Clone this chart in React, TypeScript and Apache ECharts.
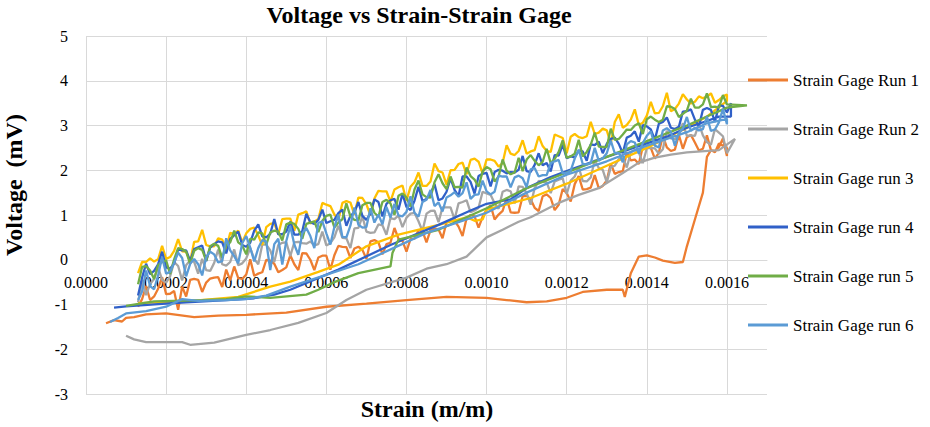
import React, { useEffect, useRef } from "react";
import * as echarts from "echarts";

// strain sample points shared by all loading (noisy) branches
const strainGrid = [
  0.00013, 0.00014, 0.00015, 0.00016, 0.00017, 0.00018, 0.00019, 0.0002, 0.00021, 0.00022,
  0.00023, 0.00024, 0.00025, 0.00026, 0.00027, 0.00028, 0.00029, 0.0003, 0.00031, 0.00032,
  0.00033, 0.00034, 0.00035, 0.00036, 0.00037, 0.00038, 0.00039, 0.0004, 0.00041, 0.00042,
  0.00043, 0.00044, 0.00045, 0.00046, 0.00047, 0.00048, 0.00049, 0.0005, 0.00051, 0.00052,
  0.00053, 0.00054, 0.00055, 0.00056, 0.00057, 0.00058, 0.00059, 0.0006, 0.00061, 0.00062,
  0.00063, 0.00064, 0.00065, 0.00066, 0.00067, 0.00068, 0.00069, 0.0007, 0.00071, 0.00072,
  0.00073, 0.00074, 0.00075, 0.00076, 0.00077, 0.00078, 0.00079, 0.0008, 0.00081, 0.00082,
  0.00083, 0.00084, 0.00085, 0.00086, 0.00087, 0.00088, 0.00089, 0.0009, 0.00091, 0.00092,
  0.00093, 0.00094, 0.00095, 0.00096, 0.00097, 0.00098, 0.00099, 0.001, 0.00101, 0.00102,
  0.00103, 0.00104, 0.00105, 0.00106, 0.00107, 0.00108, 0.00109, 0.0011, 0.00111, 0.00112,
  0.00113, 0.00114, 0.00115, 0.00116, 0.00117, 0.00118, 0.00119, 0.0012, 0.00121, 0.00122,
  0.00123, 0.00124, 0.00125, 0.00126, 0.00127, 0.00128, 0.00129, 0.0013, 0.00131, 0.00132,
  0.00133, 0.00134, 0.00135, 0.00136, 0.00137, 0.00138, 0.00139, 0.0014, 0.00141, 0.00142,
  0.00143, 0.00144, 0.00145, 0.00146, 0.00147, 0.00148, 0.00149, 0.0015, 0.00151, 0.00152,
  0.00153, 0.00154, 0.00155, 0.00156, 0.00157, 0.00158, 0.00159, 0.0016,
];

// loading branch voltages (mV), one per strainGrid entry
const run1Loading = [
  -1.05, -0.88, -0.59, -0.9, -0.82, -0.65, -0.39, -0.77, -0.76, -0.7,
  -1.12, -0.6, -0.82, -0.45, -0.43, -0.45, -0.72, -0.51, -0.42, -0.4,
  -0.39, -0.61, -0.22, -0.46, -0.15, -0.41, -0.43, -0.33, 0.01, -0.36,
  -0.31, -0.28, 0.0, -0.02, -0.09, -0.28, -0.23, -0.17, 0.1, -0.1,
  -0.23, 0.15, 0.14, 0.0, -0.23, 0.05, 0.09, 0.09, -0.22, 0.1,
  0.31, 0.29, 0.28, 0.04, 0.25, 0.29, 0.22, 0.02, 0.41, 0.44,
  0.39, 0.12, 0.35, 0.38, 0.71, 0.47, 0.42, 0.18, 0.46, 0.47,
  0.66, 0.64, 0.39, 0.66, 0.7, 0.68, 0.48, 0.84, 0.89, 0.87,
  0.74, 0.53, 0.93, 1.0, 0.97, 0.72, 0.96, 1.12, 1.22, 0.9,
  1.01, 1.09, 1.38, 1.06, 1.05, 1.06, 1.42, 1.43, 1.35, 1.16,
  1.09, 1.42, 1.46, 1.38, 1.11, 1.23, 1.58, 1.49, 1.3, 1.69,
  1.87, 1.57, 1.58, 1.61, 1.89, 1.6, 1.65, 1.77, 2.15, 1.92,
  1.96, 1.98, 2.4, 2.22, 2.24, 2.14, 2.53, 2.63, 2.5, 2.26,
  2.39, 2.77, 2.51, 2.43, 2.46, 2.79, 2.48, 2.74, 2.79, 2.62,
  2.44, 2.48, 2.78, 2.45, 2.42, 2.52, 2.71, 2.32,
];
const run2Loading = [
  -0.95, -0.46, -0.79, -0.54, -0.43, -0.17, -0.45, -0.51, -0.37, -0.05,
  -0.14, -0.46, -0.12, -0.01, -0.05, -0.31, 0.02, -0.23, -0.25, -0.07,
  0.23, -0.1, -0.13, -0.05, 0.23, -0.12, -0.08, 0.03, 0.26, 0.02,
  -0.1, 0.34, 0.34, 0.21, -0.05, 0.33, 0.38, 0.39, 0.08, 0.39,
  0.4, 0.37, 0.36, 0.41, 0.32, 0.35, 0.63, 0.32, 0.37, 0.5,
  0.76, 0.49, 0.48, 0.26, 0.7, 0.71, 0.97, 0.63, 0.6, 0.61,
  0.79, 0.77, 0.56, 0.93, 0.91, 0.99, 0.73, 0.94, 1.03, 1.05,
  0.86, 0.64, 1.03, 1.09, 1.1, 0.84, 1.17, 1.17, 1.17, 0.9,
  1.26, 1.29, 1.33, 1.06, 1.1, 1.16, 1.52, 1.48, 1.45, 1.26,
  1.14, 1.52, 1.56, 1.53, 1.26, 1.64, 1.63, 1.49, 1.23, 1.6,
  1.76, 1.74, 1.73, 1.49, 1.75, 1.79, 1.82, 1.47, 1.77, 1.86,
  2.07, 1.76, 1.75, 1.84, 2.23, 2.05, 2.01, 1.73, 2.07, 2.1,
  2.25, 2.3, 2.06, 2.4, 2.45, 2.4, 2.16, 2.49, 2.5, 2.49,
  2.37, 2.47, 2.88, 2.71, 2.69, 2.8, 3.05, 2.77, 2.78, 2.77,
  3.04, 2.78, 2.63, 2.57, 2.92, 2.84, 2.76, 2.38,
];
const run3Loading = [
  -0.3, -0.05, -0.05, 0.03, -0.04, 0.01, 0.31, 0.02, 0.06, 0.2,
  0.46, 0.19, 0.18, -0.04, 0.4, 0.41, 0.67, 0.33, 0.3, 0.3,
  0.48, 0.45, 0.24, 0.6, 0.58, 0.65, 0.39, 0.59, 0.69, 0.72,
  0.54, 0.33, 0.73, 0.8, 0.82, 0.57, 0.91, 0.92, 0.92, 0.65,
  1.01, 1.04, 1.08, 0.81, 0.85, 0.91, 1.27, 1.23, 1.2, 1.01,
  0.89, 1.27, 1.31, 1.28, 1.01, 1.39, 1.38, 1.24, 0.99, 1.37,
  1.54, 1.53, 1.53, 1.3, 1.57, 1.62, 1.66, 1.32, 1.63, 1.73,
  1.95, 1.65, 1.65, 1.75, 2.15, 1.98, 1.95, 1.68, 2.0, 2.01,
  2.14, 2.17, 1.91, 2.23, 2.26, 2.19, 1.93, 2.24, 2.24, 2.21,
  2.08, 2.16, 2.56, 2.37, 2.34, 2.43, 2.67, 2.37, 2.42, 2.45,
  2.76, 2.54, 2.43, 2.41, 2.8, 2.76, 2.72, 2.38, 2.75, 2.81,
  2.74, 2.72, 2.76, 3.08, 2.81, 2.84, 2.93, 2.89, 2.6, 3.08,
  3.25, 2.95, 3.01, 3.13, 3.36, 3.01, 3.06, 3.22, 3.53, 3.27,
  3.28, 3.43, 3.73, 3.32, 3.37, 3.49, 3.7, 3.58, 3.49, 3.53,
  3.65, 3.61, 3.64, 3.72, 3.51, 3.57, 3.65, 3.69,
];
const run4Loading = [
  -0.8, -0.4, -0.09, -0.32, -0.25, -0.1, 0.18, -0.17, -0.2, -0.08,
  0.23, 0.21, 0.21, -0.03, 0.24, 0.28, 0.32, -0.03, 0.27, 0.35,
  0.41, 0.39, 0.14, 0.46, 0.55, 0.63, 0.33, 0.29, 0.38, 0.65,
  0.79, 0.52, 0.5, 0.58, 0.91, 0.57, 0.57, 0.63, 0.85, 0.56,
  0.56, 0.64, 1.03, 0.84, 0.8, 0.89, 1.12, 0.82, 0.86, 0.89,
  1.04, 1.12, 0.76, 0.98, 1.06, 1.29, 0.98, 0.89, 1.03, 1.35,
  1.29, 0.97, 1.25, 1.33, 1.36, 1.12, 1.47, 1.18, 1.11, 1.32,
  1.63, 1.31, 1.36, 1.47, 1.69, 1.33, 1.37, 1.52, 1.82, 1.56,
  1.42, 1.86, 1.86, 1.74, 1.48, 1.87, 1.92, 1.94, 1.64, 1.96,
  2.01, 1.99, 1.93, 1.96, 1.95, 2.01, 2.32, 1.98, 1.96, 2.12,
  2.38, 2.11, 2.16, 1.97, 2.34, 2.33, 2.57, 2.27, 2.31, 2.29,
  2.44, 2.42, 2.21, 2.58, 2.56, 2.64, 2.38, 2.59, 2.7, 2.73,
  2.59, 2.38, 2.73, 2.77, 2.87, 2.64, 3.01, 2.98, 2.91, 2.68,
  3.04, 3.08, 3.18, 2.95, 2.92, 2.97, 3.31, 3.32, 3.36, 3.13,
  2.98, 3.35, 3.39, 3.35, 3.08, 3.45, 3.44, 3.29,
];
const run5Loading = [
  -0.55, -0.16, -0.14, -0.24, -0.43, -0.12, -0.05, -0.01, -0.32, 0.01,
  0.26, 0.24, 0.18, -0.09, 0.2, 0.26, 0.22, -0.02, 0.3, 0.36,
  0.31, 0.04, 0.33, 0.39, 0.65, 0.39, 0.32, 0.12, 0.47, 0.45,
  0.61, 0.59, 0.34, 0.61, 0.65, 0.63, 0.43, 0.79, 0.83, 0.8,
  0.69, 0.47, 0.8, 0.83, 0.86, 0.62, 0.87, 0.98, 1.01, 0.72,
  0.83, 0.91, 1.26, 0.97, 0.89, 0.88, 1.22, 1.27, 1.27, 1.05,
  0.96, 1.29, 1.34, 1.26, 1.0, 1.43, 1.48, 1.39, 1.19, 1.57,
  1.77, 1.46, 1.4, 1.39, 1.73, 1.91, 1.71, 1.58, 1.86, 1.62,
  1.63, 1.61, 2.06, 1.87, 1.79, 1.63, 1.97, 2.07, 2.02, 1.75,
  1.86, 2.24, 1.99, 1.91, 1.95, 2.28, 1.98, 2.24, 2.34, 2.21,
  2.11, 2.19, 2.48, 2.16, 2.25, 2.41, 2.67, 2.28, 2.31, 2.37,
  2.68, 2.31, 2.41, 2.57, 2.84, 2.53, 2.52, 2.52, 2.93, 2.68,
  2.7, 2.8, 2.91, 2.9, 3.0, 3.05, 2.81, 3.14, 3.2, 3.13,
  3.08, 3.13, 3.43, 3.42, 3.37, 3.19, 3.26, 3.33, 3.6, 3.4,
  3.4, 3.47, 3.72, 3.41, 3.42, 3.4, 3.68, 3.47,
];
const run6Loading = [
  -0.9, -0.71, -0.24, -0.59, -0.66, -0.35, 0.06, -0.31, -0.27, -0.07,
  0.16, 0.04, -0.37, -0.09, 0.02, -0.1, -0.35, 0.06, 0.18, 0.12,
  -0.06, -0.03, 0.48, 0.21, 0.08, -0.08, 0.37, 0.53, 0.27, -0.04,
  0.26, 0.44, 0.4, -0.23, 0.35, 0.47, -0.11, 0.42, 0.75, 0.34,
  0.11, 0.59, 0.71, 0.53, 0.26, 0.82, 0.86, 0.59, 0.34, 0.73,
  1.01, 0.51, 0.5, 0.76, 1.17, 0.78, 0.72, 0.73, 1.15, 0.83,
  1.01, 0.79, 1.18, 0.94, 1.25, 0.99, 0.97, 1.07, 1.42, 1.05,
  0.96, 1.29, 1.34, 1.56, 1.2, 1.28, 1.08, 1.39, 1.44, 1.51,
  1.41, 1.49, 1.73, 1.36, 1.45, 1.46, 1.77, 1.53, 1.46, 1.52,
  1.88, 1.86, 1.86, 1.62, 1.84, 1.88, 1.82, 1.62, 2.02, 2.05,
  1.86, 1.89, 1.89, 2.16, 2.2, 2.23, 1.93, 1.94, 1.99, 2.26,
  2.46, 2.14, 2.13, 2.16, 2.5, 2.21, 2.27, 2.38, 2.66, 2.38,
  2.39, 2.18, 2.58, 2.65, 2.62, 2.37, 2.61, 2.77, 2.87, 2.55,
  2.51, 2.89, 2.94, 2.86, 2.55, 2.83, 2.93, 3.19, 2.88, 2.95,
  2.89, 2.92, 3.2, 2.88, 2.91, 3.07, 3.37, 3.03,
];

// unloading branches, [strain, voltage] from high strain back to low
const run1Unloading = [
  [0.0016, 2.5], [0.00158, 2.6], [0.00157, 2.4], [0.00156, 2.45], [0.00155, 2.3],
  [0.00154, 1.5], [0.00152, 0.9], [0.0015, 0.3], [0.00149, -0.05], [0.00147, -0.07],
  [0.00144, -0.02], [0.00142, 0.05], [0.0014, 0.1], [0.00138, 0.07], [0.00136, -0.3],
  [0.001345, -0.83], [0.00134, -0.67], [0.0013, -0.67], [0.00124, -0.72], [0.0012, -0.85],
  [0.00115, -0.93], [0.0011, -0.95], [0.00105, -0.9], [0.001, -0.85], [0.0009, -0.83],
  [0.0008, -0.9], [0.0007, -0.98], [0.0006, -1.05], [0.0005, -1.18], [0.0004, -1.23],
  [0.00033, -1.25], [0.00027, -1.28], [0.0002, -1.2], [0.00015, -1.22], [0.00012, -1.28],
  [0.0001, -1.3], [0.00009, -1.38], [0.00007, -1.35], [0.00005, -1.42],
];
const run2Unloading = [
  [0.00162, 2.7], [0.00158, 2.45], [0.0015, 2.4], [0.00146, 2.35], [0.00142, 2.28],
  [0.00138, 2.17], [0.00134, 1.94], [0.00128, 1.6], [0.00123, 1.45], [0.00118, 1.27],
  [0.00111, 0.95], [0.00108, 0.85], [0.00104, 0.67], [0.001, 0.5], [0.00095, 0.07],
  [0.0009, -0.1], [0.00085, -0.2], [0.0008, -0.4], [0.0007, -0.67], [0.00065, -0.9],
  [0.0006, -1.19], [0.00053, -1.41], [0.00046, -1.57], [0.0004, -1.68], [0.00032, -1.85],
  [0.00026, -1.9], [0.00024, -1.84], [0.0002, -1.84], [0.00015, -1.84], [0.00012, -1.78],
  [0.0001, -1.7],
];
const run3Unloading = [
  [0.0016, 3.55], [0.00155, 3.2], [0.0015, 2.95], [0.0014, 2.5], [0.0013, 2.1],
  [0.0012, 1.7], [0.00111, 1.38], [0.001, 1.12], [0.00099, 0.9], [0.00097, 0.87],
  [0.00095, 0.95], [0.00088, 0.78], [0.00078, 0.56], [0.0007, 0.3], [0.00063, -0.11],
  [0.00058, -0.27], [0.00051, -0.49], [0.00046, -0.6], [0.00038, -0.83], [0.00025, -0.93],
  [0.00013, -0.97],
];
const run4Unloading = [
  [0.00161, 3.5], [0.00161, 3.2], [0.00158, 3.2], [0.00155, 3.1], [0.0015, 2.95],
  [0.00145, 2.75], [0.0014, 2.6], [0.00135, 2.45], [0.0013, 2.3], [0.00122, 2.05],
  [0.00116, 1.85], [0.0011, 1.6], [0.00106, 1.35], [0.001, 1.25], [0.00096, 1.1],
  [0.00088, 0.78], [0.00076, 0.33], [0.00063, -0.22], [0.00051, -0.67], [0.00047, -0.78],
  [0.00042, -0.86], [0.00035, -0.9], [0.00025, -0.95], [0.00018, -0.99], [0.0001, -1.04],
  [0.00007, -1.07],
];
const run5Unloading = [
  [0.00165, 3.45], [0.0016, 3.4], [0.00155, 3.2], [0.0015, 3.0], [0.0014, 2.65],
  [0.0013, 2.3], [0.0012, 1.95], [0.0011, 1.6], [0.001, 1.15], [0.00088, 0.67],
  [0.00078, 0.45], [0.000765, 0.15], [0.00076, -0.15], [0.00068, -0.3], [0.00062, -0.5],
  [0.00058, -0.67], [0.00055, -0.78], [0.00046, -0.85], [0.0004, -0.82], [0.00035, -0.88],
  [0.00029, -0.9], [0.00017, -0.93], [0.0001, -1.03],
];
const run6Unloading = [
  [0.0016, 3.15], [0.00155, 3.05], [0.0015, 2.85], [0.0014, 2.55], [0.0013, 2.2],
  [0.0012, 1.9], [0.0011, 1.5], [0.001, 1.05], [0.00085, 0.6], [0.00068, -0.1],
  [0.00051, -0.6], [0.00045, -0.8], [0.0004, -0.88], [0.00035, -0.9], [0.00028, -0.92],
  [0.00024, -0.88], [0.0002, -1.05], [0.00015, -1.15], [0.0001, -1.2], [0.00008, -1.3],
  [0.00006, -1.39],
];

const runNames = [
  "Strain Gage Run 1",
  "Strain Gage Run 2",
  "Strain Gage run 3",
  "Strain Gage run 4",
  "Strain Gage run 5",
  "Strain Gage run 6",
];
const runColors = ["#ED7D31", "#A5A5A5", "#FFC000", "#3060C8", "#70AD47", "#5B9BD5"];

const loadings = [run1Loading, run2Loading, run3Loading, run4Loading, run5Loading, run6Loading];
const unloadings = [run1Unloading, run2Unloading, run3Unloading, run4Unloading, run5Unloading, run6Unloading];

const FONT = "Liberation Serif";

const App: React.FC = () => {
  const chartRef = useRef<HTMLDivElement>(null);

  useEffect(() => {
    const chartDom = chartRef.current;
    if (!chartDom) return;
    const myChart = echarts.init(chartDom, undefined, { renderer: "svg" });

    const series = runNames.map((name, i) => ({
      name,
      type: "line" as const,
      showSymbol: false,
      symbol: "none",
      lineStyle: { color: runColors[i], width: 2.3 },
      itemStyle: { color: runColors[i] },
      data: strainGrid
        .map((x, k) => [x, loadings[i][k]])
        .concat(unloadings[i]),
    }));

    const option: echarts.EChartsOption = {
      animation: false,
      backgroundColor: "#ffffff",
      title: {
        text: "Voltage vs Strain-Strain Gage",
        left: 414,
        textAlign: "center",
        top: -2,
        textStyle: { fontFamily: FONT, fontSize: 24, fontWeight: "bold", color: "#000" },
      },
      grid: { left: 86, right: 163, top: 36, bottom: 33 },
      legend: {
        orient: "vertical",
        left: 743,
        top: 65,
        itemWidth: 40,
        itemHeight: 3,
        itemGap: 29,
        icon: "rect",
        data: runNames,
        textStyle: { fontFamily: FONT, fontSize: 17, color: "#000", lineHeight: 20 },
      },
      xAxis: {
        type: "value",
        min: 0,
        max: 0.0017,
        interval: 0.0002,
        offset: -134,
        axisLine: { onZero: false, lineStyle: { color: "#d9d9d9" } },
        axisTick: { show: false },
        axisLabel: {
          fontFamily: FONT,
          fontSize: 16,
          color: "#000",
          margin: 14,
          showMaxLabel: false,
          formatter: (v: number) => (v > 0.00165 ? "" : v.toFixed(4)),
        },
        splitLine: { show: true, showMaxLine: false, lineStyle: { color: "#d9d9d9", width: 1 } },
      },
      yAxis: {
        type: "value",
        min: -3,
        max: 5,
        interval: 1,
        axisLine: { show: false },
        axisTick: { show: false },
        axisLabel: { fontFamily: FONT, fontSize: 16, color: "#000", margin: 18 },
        splitLine: { show: true, lineStyle: { color: "#d9d9d9", width: 1 } },
      },
      graphic: [
        {
          type: "text",
          x: 427,
          y: 409,
          style: {
            text: "Strain (m/m)",
            font: `bold 24px ${FONT}`,
            fill: "#000",
            align: "center",
            verticalAlign: "middle",
          },
        },
        {
          type: "text",
          x: 14,
          y: 185,
          rotation: Math.PI / 2,
          style: {
            text: "Voltage  (mV)",
            font: `bold 24px ${FONT}`,
            fill: "#000",
            align: "center",
            verticalAlign: "middle",
          },
        },
      ],
      series,
    };

    myChart.setOption(option);

    return () => {
      myChart.dispose();
    };
  }, []);

  return (
    <div
      ref={chartRef}
      style={{ position: "fixed", left: 0, top: 0, width: "930px", height: "427px" }}
    />
  );
};

export default App;
